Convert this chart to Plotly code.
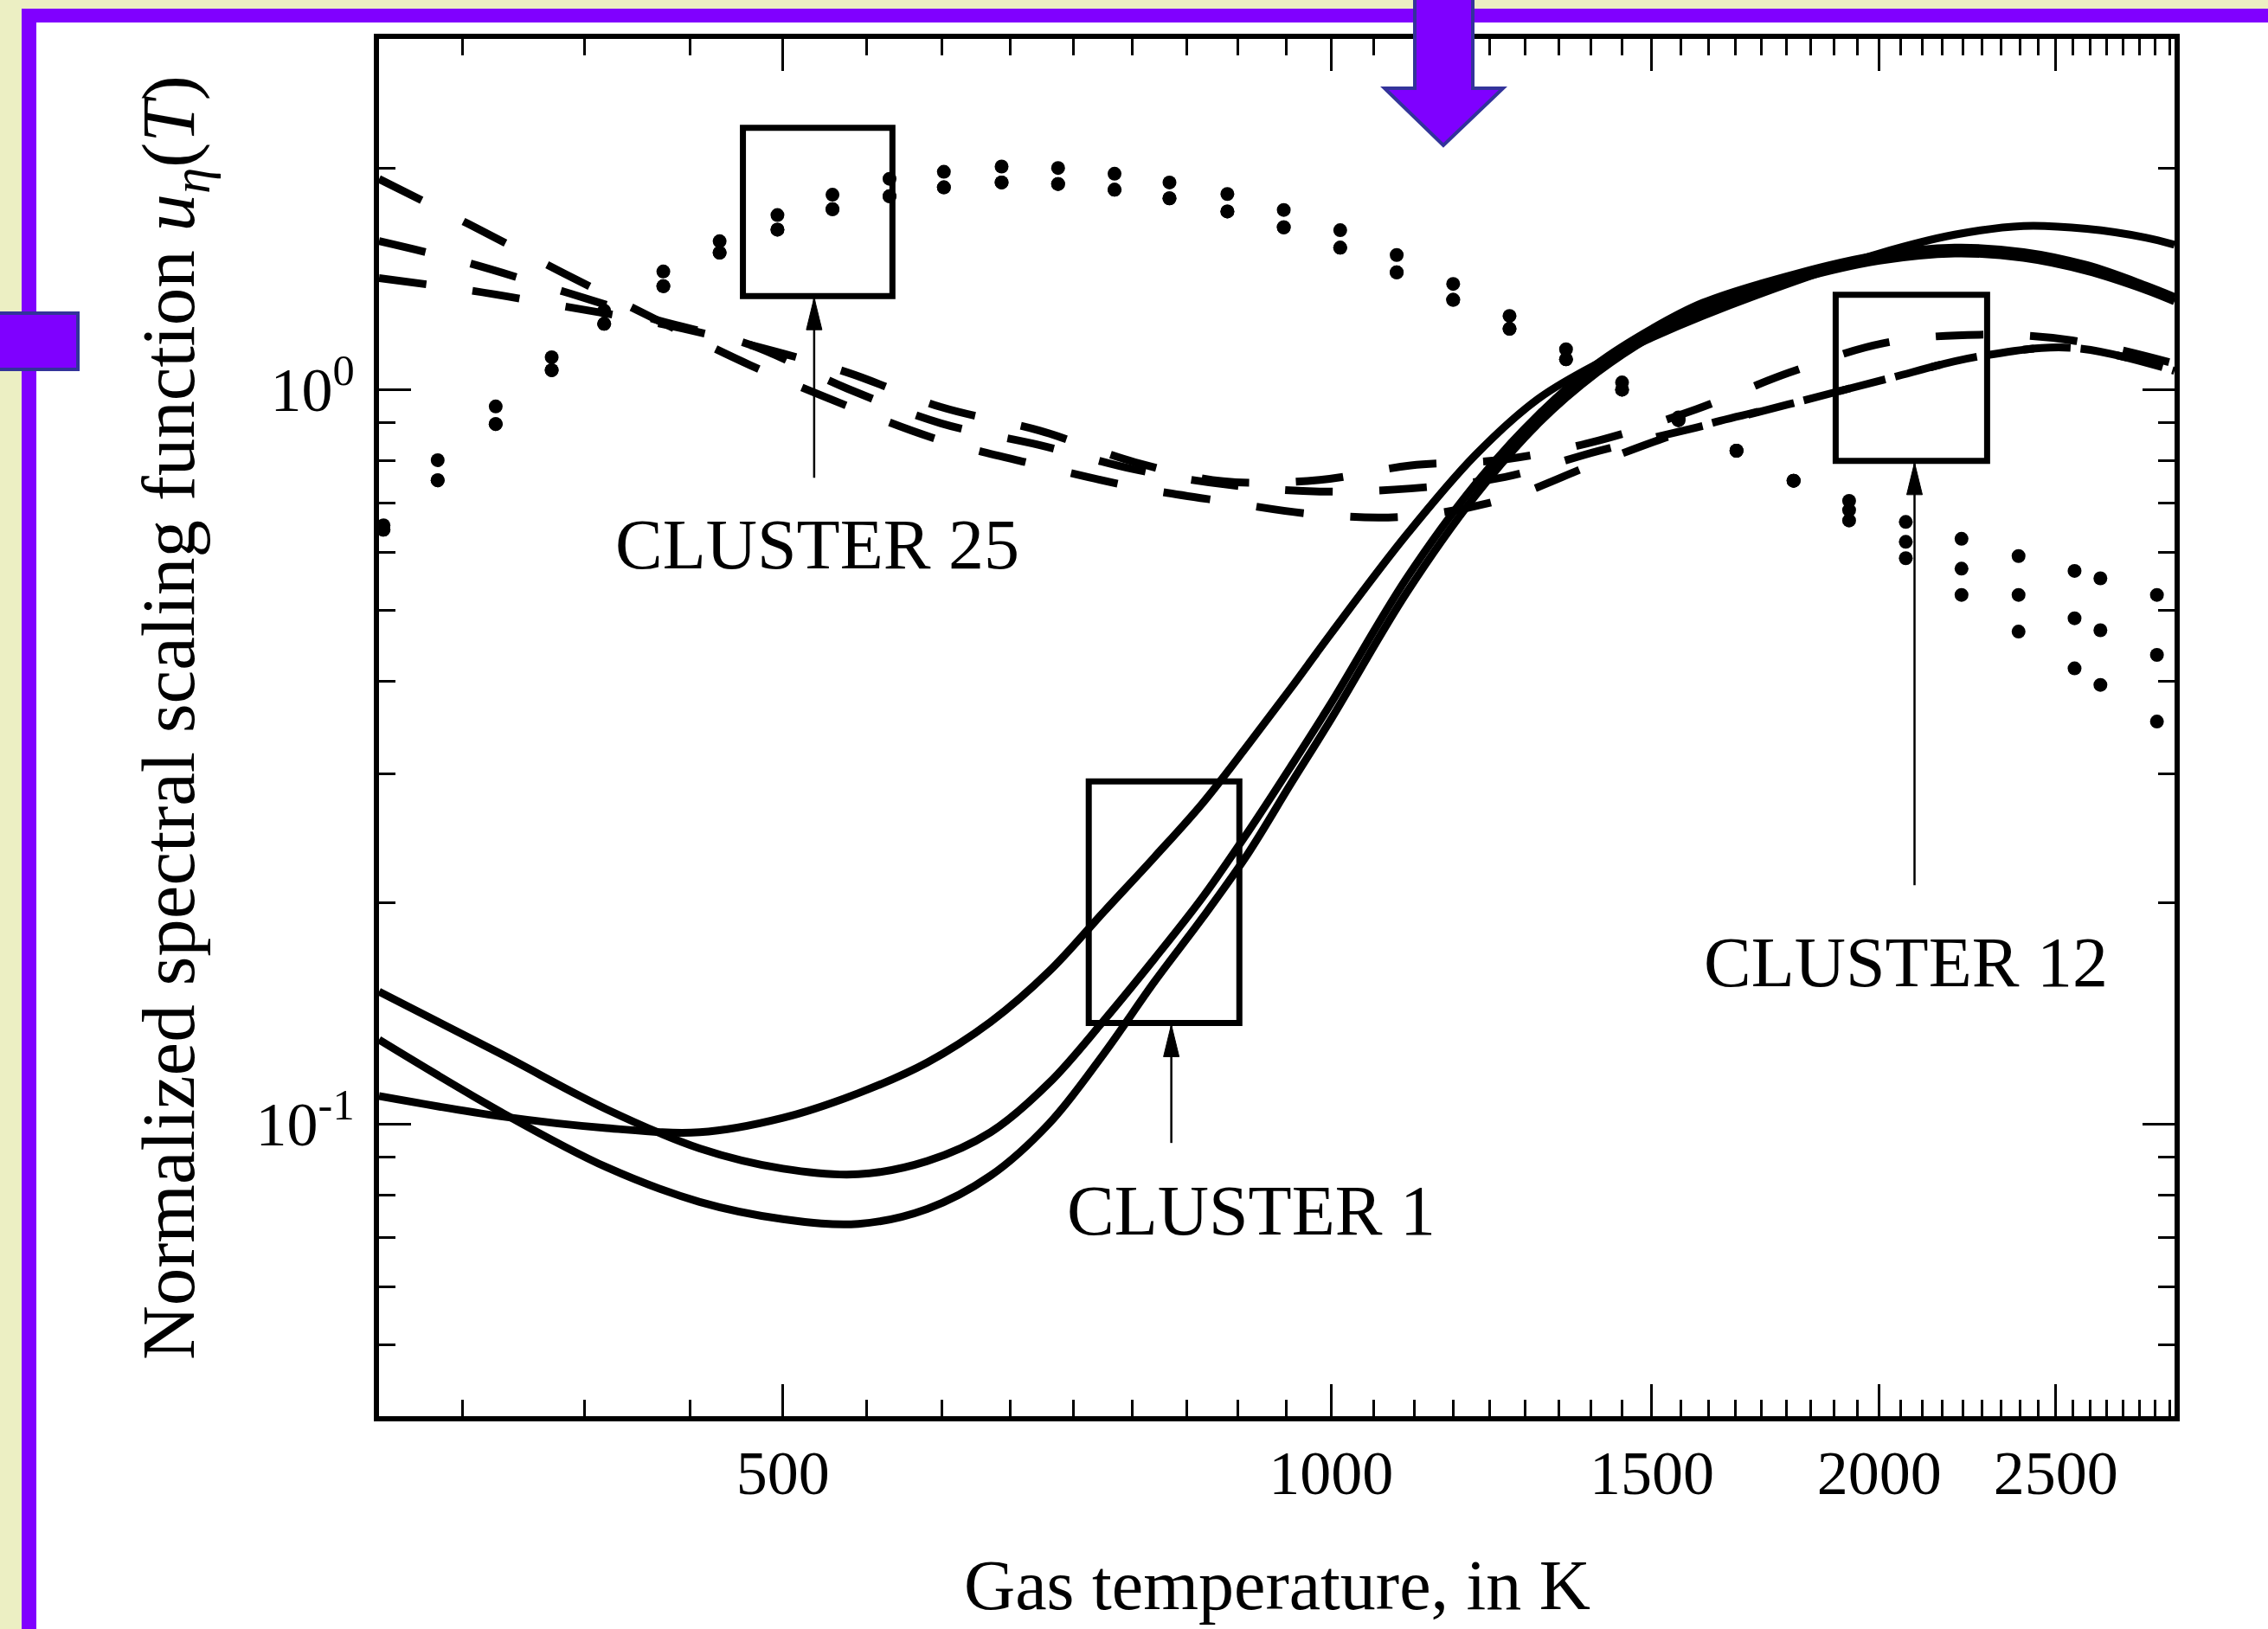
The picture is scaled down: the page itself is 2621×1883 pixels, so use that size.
import math
import plotly.graph_objects as go

# ---------------- data ----------------
# CLUSTER 1 : three solid curves
T_solid = [300, 350, 400, 450, 500, 550, 600, 650, 700, 750, 800, 850, 900, 950,
           1000, 1100, 1200, 1300, 1400, 1500, 1600, 1800, 2000, 2200, 2400, 2600, 2800, 2905]
u_c1_a = [0.1091, 0.1024, 0.0987, 0.0974, 0.1019, 0.1101, 0.1212, 0.1376, 0.1613, 0.1943,
          0.2310, 0.2734, 0.3279, 0.3915, 0.4654, 0.6339, 0.8139, 0.9718, 1.0838, 1.1763,
          1.2592, 1.4044, 1.5311, 1.6241, 1.6692, 1.6540, 1.6095, 1.5733]
u_c1_b = [0.1302, 0.1038, 0.0873, 0.0783, 0.0742, 0.0731, 0.0766, 0.0850, 0.1001, 0.1245,
          0.1563, 0.1909, 0.2332, 0.2901, 0.3558, 0.5284, 0.7166, 0.8995, 1.0546, 1.1816,
          1.2823, 1.4108, 1.4967, 1.5311, 1.5104, 1.4498, 1.3666, 1.3178]
u_c1_c = [0.1514, 0.1245, 0.1047, 0.0926, 0.0869, 0.0854, 0.0890, 0.0974, 0.1137, 0.1382,
          0.1680, 0.2035, 0.2495, 0.3062, 0.3741, 0.5530, 0.7431, 0.9243, 1.0838, 1.2089,
          1.3118, 1.4367, 1.5241, 1.5592, 1.5381, 1.4763, 1.3853, 1.3359]

# CLUSTER 12 : three dashed curves
T_dash = [300, 335.7, 378.8, 426.7, 479.6, 542.1, 610.6, 691.3, 780.2, 872.1, 985.7,
          1106, 1246, 1403, 1585.8, 1782.7, 2011.6, 2269.7, 2552.5, 2905]
u_c12_a = [1.934, 1.681, 1.440, 1.242, 1.079, 0.950, 0.852, 0.788, 0.736, 0.704, 0.675,
           0.672, 0.710, 0.796, 0.887, 0.954, 1.031, 1.109, 1.139, 1.060]
u_c12_b = [1.592, 1.487, 1.359, 1.242, 1.150, 1.003, 0.899, 0.840, 0.778, 0.743, 0.726,
           0.733, 0.760, 0.825, 0.887, 0.954, 1.031, 1.109, 1.139, 1.060]
u_c12_c = [1.417, 1.365, 1.298, 1.231, 1.150, 1.055, 0.946, 0.879, 0.796, 0.750, 0.753,
           0.788, 0.803, 0.852, 0.939, 1.053, 1.156, 1.187, 1.166, 1.084]

# CLUSTER 25 : three dotted curves (sample points)
T_dot = [301.7, 323.1, 347.7, 373.2, 398.8, 429.8, 461.5, 496.5, 532.3, 572.1, 612.8,
         659.2, 708, 760.4, 815.1, 877, 941.8, 1011.5, 1086.4, 1166.8, 1253, 1345.8,
         1444.6, 1551.5, 1669.5, 1794.5, 1925, 2068, 2219, 2385, 2560, 2645, 2841]
u_c25_a = [0.653, 0.801, 0.948, 1.106, 1.280, 1.447, 1.591, 1.727, 1.841, 1.935, 1.978,
           2.011, 2.002, 1.966, 1.913, 1.845, 1.755, 1.647, 1.524, 1.392, 1.259, 1.134,
           1.022, 0.916, 0.825, 0.751, 0.705, 0.660, 0.626, 0.593, 0.566, 0.553, 0.525]
u_c25_b = [0.644, 0.752, 0.897, 1.062, 1.228, 1.382, 1.535, 1.650, 1.759, 1.832, 1.884,
           1.913, 1.904, 1.870, 1.820, 1.747, 1.662, 1.559, 1.443, 1.324, 1.209, 1.099,
           0.999, 0.908, 0.825, 0.751, 0.685, 0.620, 0.570, 0.525, 0.488, 0.470, 0.435]
u_c25_c = [0.644, 0.752, 0.897, 1.062, 1.228, 1.382, 1.535, 1.650, 1.759, 1.832, 1.884,
           1.913, 1.904, 1.870, 1.820, 1.747, 1.662, 1.559, 1.443, 1.324, 1.209, 1.099,
           0.999, 0.908, 0.825, 0.751, 0.663, 0.589, 0.525, 0.468, 0.417, 0.396, 0.353]

# tick labels
x_tickvals = [500, 1000, 1500, 2000, 2500]
x_ticktext = ["500", "1000", "1500", "2000", "2500"]
y_tickvals = [0.1, 1]
y_ticktext = ["10<sup>-1</sup>", "10<sup>0</sup>"]
y_minor = [0.05, 0.06, 0.07, 0.08, 0.09, 0.2, 0.3, 0.4, 0.5, 0.6, 0.7, 0.8, 0.9, 2]

# annotation boxes (T range, u range) and arrows (T, u tail, u head)
box_c25 = dict(T0=475.3, T1=574.2, u0=1.340, u1=2.271)
box_c1 = dict(T0=736.0, T1=890.4, u0=0.1372, u1=0.2926)
box_c12 = dict(T0=1892.6, T1=2292.0, u0=0.799, u1=1.345)
arrow_c25 = dict(T=520.1, u_tail=0.758, u_head=1.340)
arrow_c1 = dict(T=817.0, u_tail=0.0942, u_head=0.1372)
arrow_c12 = dict(T=2091.0, u_tail=0.2113, u_head=0.799)

# ---------------- figure ----------------
W, H = 2621, 1883
ML, MR, MT, MB = 438, 108, 45, 246
PW, PH = W - ML - MR, H - MT - MB


def px2paper_x(px):
    return (px - ML) / PW


def px2paper_y(py):
    return (H - MB - py) / PH


FONT = "Liberation Serif"
fig = go.Figure()

for u in (u_c1_a, u_c1_b, u_c1_c):
    fig.add_trace(go.Scatter(x=T_solid, y=u, mode="lines",
                             line=dict(color="black", width=9, shape="spline", smoothing=1.0),
                             showlegend=False, hoverinfo="skip"))

for u in (u_c12_a, u_c12_b, u_c12_c):
    fig.add_trace(go.Scatter(x=T_dash, y=u, mode="lines",
                             line=dict(color="black", width=9, shape="spline", smoothing=1.0,
                                       dash="55px,54px"),
                             showlegend=False, hoverinfo="skip"))

for u in (u_c25_a, u_c25_b, u_c25_c):
    fig.add_trace(go.Scatter(x=T_dot, y=u, mode="markers",
                             marker=dict(color="black", size=16, symbol="circle"),
                             showlegend=False, hoverinfo="skip"))

shapes = []
# white panel and decorative frame
shapes.append(dict(type="rect", xref="paper", yref="paper", layer="below",
                   x0=px2paper_x(42), x1=px2paper_x(W + 10), y0=px2paper_y(H + 10), y1=px2paper_y(26),
                   fillcolor="white", line=dict(width=0)))
shapes.append(dict(type="rect", xref="paper", yref="paper", layer="above",
                   x0=px2paper_x(25), x1=px2paper_x(W + 10), y0=px2paper_y(26), y1=px2paper_y(10),
                   fillcolor="#8000FF", line=dict(width=0)))
shapes.append(dict(type="rect", xref="paper", yref="paper", layer="above",
                   x0=px2paper_x(25), x1=px2paper_x(42), y0=px2paper_y(H + 10), y1=px2paper_y(10),
                   fillcolor="#8000FF", line=dict(width=0)))
shapes.append(dict(type="rect", xref="paper", yref="paper", layer="above",
                   x0=px2paper_x(-10), x1=px2paper_x(90), y0=px2paper_y(427), y1=px2paper_y(362),
                   fillcolor="#7F00FF", line=dict(color="#33339A", width=4)))
arrow_pts = [(1635, -10), (1702, -10), (1702, 102), (1737, 102), (1668, 168), (1600, 102), (1635, 102)]
path = "M " + " L ".join(f"{px2paper_x(a):.5f},{px2paper_y(b):.5f}" for a, b in arrow_pts) + " Z"
shapes.append(dict(type="path", xref="paper", yref="paper", layer="above", path=path,
                   fillcolor="#7F00FF", line=dict(color="#33339A", width=4)))

# cluster boxes
for b in (box_c25, box_c1, box_c12):
    shapes.append(dict(type="rect", xref="x", yref="y", x0=b["T0"], x1=b["T1"], y0=b["u0"], y1=b["u1"],
                       line=dict(color="black", width=7), fillcolor="rgba(0,0,0,0)"))
# arrows
for a in (arrow_c25, arrow_c1, arrow_c12):
    shapes.append(dict(type="line", xref="x", yref="y", x0=a["T"], x1=a["T"], y0=a["u_tail"], y1=a["u_head"],
                       line=dict(color="black", width=2.5)))
    shapes.append(dict(type="path", xref="x", yref="y", xsizemode="pixel", ysizemode="pixel",
                       xanchor=a["T"], yanchor=a["u_head"], path="M 0,-2 L -9,-39 L 9,-39 Z",
                       fillcolor="black", line=dict(color="black", width=1)))

ann_font = dict(family=FONT, size=82, color="black")
annotations = [
    dict(text="CLUSTER 25", xref="paper", yref="paper", x=px2paper_x(944), y=px2paper_y(629),
         xanchor="center", yanchor="middle", showarrow=False, font=ann_font),
    dict(text="CLUSTER 1", xref="paper", yref="paper", x=px2paper_x(1446), y=px2paper_y(1399),
         xanchor="center", yanchor="middle", showarrow=False, font=ann_font),
    dict(text="CLUSTER 12", xref="paper", yref="paper", x=px2paper_x(2202), y=px2paper_y(1112),
         xanchor="center", yanchor="middle", showarrow=False, font=ann_font),
    dict(text="Gas temperature, in K", xref="paper", yref="paper", x=px2paper_x(1476), y=px2paper_y(1832),
         xanchor="center", yanchor="middle", showarrow=False, font=ann_font),
    dict(text="Normalized spectral scaling function <i>u</i><sub><i>η</i></sub>(<i>T</i>)",
         xref="paper", yref="paper", x=px2paper_x(200), y=px2paper_y(830), textangle=-90,
         xanchor="center", yanchor="middle",
         showarrow=False, font=dict(family=FONT, size=87, color="black")),
]

x_minor = [500 * k / 9 for k in range(6, 53) if k % 9 != 0]

fig.update_layout(
    width=W, height=H,
    margin=dict(l=ML, r=MR, t=MT, b=MB, pad=0),
    paper_bgcolor="#ECEFC3",
    plot_bgcolor="white",
    shapes=shapes,
    annotations=annotations,
    showlegend=False,
    xaxis=dict(type="log", range=[math.log10(300), math.log10(2905)],
               tickmode="array", tickvals=x_tickvals, ticktext=x_ticktext,
               ticks="inside", ticklen=37, tickwidth=3, tickcolor="black",
               showline=True, linewidth=6, linecolor="black", mirror="ticks",
               showgrid=False, zeroline=False, ticklabelstandoff=-2,
               tickfont=dict(family=FONT, size=72, color="black"),
               minor=dict(tickmode="array", tickvals=x_minor, ticks="inside", ticklen=19,
                          tickwidth=3, tickcolor="black", showgrid=False)),
    yaxis=dict(type="log", range=[math.log10(0.04), math.log10(3)],
               tickmode="array", tickvals=y_tickvals, ticktext=y_ticktext,
               ticks="inside", ticklen=37, tickwidth=3, tickcolor="black",
               showline=True, linewidth=6, linecolor="black", mirror="ticks",
               showgrid=False, zeroline=False, ticklabelstandoff=8,
               tickfont=dict(family=FONT, size=72, color="black"),
               minor=dict(tickmode="array", tickvals=y_minor, ticks="inside", ticklen=19,
                          tickwidth=3, tickcolor="black", showgrid=False)),
)

fig.write_html("out.html", config={"displayModeBar": False},
               post_script="document.body.style.margin='0px';document.body.style.overflow='hidden';")
